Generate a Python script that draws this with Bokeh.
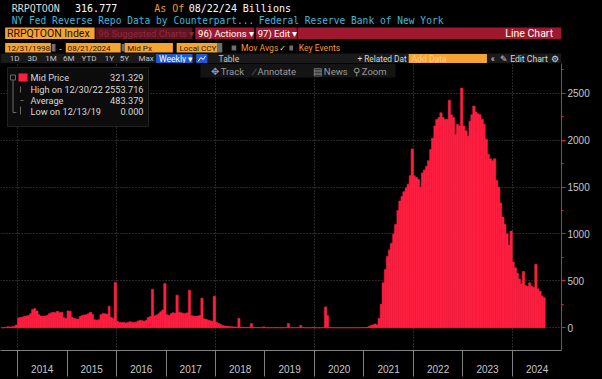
import pandas as pd
from bokeh.plotting import figure
from bokeh.layouts import column
from bokeh.models import (Range1d, FixedTicker, DatetimeTickFormatter, Label,
                          ColumnDataSource, GlobalInlineStyleSheet)
from bokeh.core.properties import value
from bokeh.embed import file_html
from bokeh.resources import INLINE

# ---------------- data (semi-monthly, billions USD) ----------------
start_date = "2013-09-01"
v2013 = [0, 2, 6, 10, 8, 12, 15, 30]
v2014 = [105, 110, 115, 120, 125, 130, 150, 195, 205, 180, 140, 125,
         120, 125, 130, 150, 160, 165, 160, 175, 160, 165, 110, 100]
v2015 = [180, 175, 110, 100, 95, 90, 120, 130, 135, 140, 150, 165,
         145, 85, 80, 85, 140, 150, 150, 145, 230, 110, 100, 482]
v2016 = [70, 60, 55, 60, 50, 55, 65, 60, 55, 60, 70, 80,
         75, 70, 80, 110, 120, 411, 125, 135, 150, 170, 190, 471]
v2017 = [140, 130, 150, 160, 155, 348, 165, 160, 155, 150, 160, 401,
         130, 125, 120, 125, 130, 316, 95, 90, 80, 75, 70, 337]
v2018 = [60, 45, 35, 25, 20, 18, 15, 12, 10, 8, 8, 100,
         5, 5, 4, 5, 5, 45, 4, 3, 3, 2, 2, 10]
v2019 = [2, 1, 1, 2, 1, 3, 1, 1, 1, 2, 2, 45,
         1, 1, 1, 2, 3, 25, 2, 1, 1, 1, 0, 5]
v2020 = [1, 0, 1, 1, 2, 222, 130, 2, 1, 1, 0, 1,
         1, 1, 1, 1, 0, 1, 1, 1, 1, 1, 1, 3]
v2021 = [2, 5, 15, 25, 30, 40, 30, 100, 250, 480, 620, 760,
         830, 900, 1000, 1100, 1250, 1350, 1400, 1450, 1490, 1530, 1620, 1904]
v2022 = [1620, 1600, 1580, 1500, 1650, 1680, 1720, 1780, 1900, 2020, 2150, 2220,
         2240, 2290, 2240, 2220, 2220, 2425, 2270, 2240, 2060, 2167, 2150, 2554]
v2023 = [2150, 2100, 2040, 2200, 2270, 2362, 2300, 2280, 2270, 2220, 2170, 2010,
         1850, 1800, 1780, 1800, 1570, 1500, 1330, 1180, 1100, 1000, 880, 1030]
v2024 = [700, 640, 580, 520, 470, 600, 450, 440, 480, 440, 430, 677,
         415, 390, 340, 321.329]

years = list(range(2014, 2025))
grid_years = [2014, 2016, 2018, 2020, 2022, 2024]
y_ticks = [0, 500, 1000, 1500, 2000, 2500]
y_minor = [250, 750, 1250, 1750, 2250, 2750]

legend_names = ["Mid Price", "High on 12/30/22", "Average", "Low on 12/13/19"]
legend_values = ["321.329", "2553.716", "483.379", "0.000"]
last_value = 321.329

# ---------------- build ----------------
RED = "#ff1f40"
values = (v2013 + v2014 + v2015 + v2016 + v2017 + v2018 + v2019 + v2020 +
          v2021 + v2022 + v2023 + v2024)
dates = pd.date_range(start_date, periods=len(values), freq="SMS")
rights = list(dates[1:]) + [dates[-1] + pd.Timedelta(days=16)]
src = ColumnDataSource(dict(left=list(dates), right=rights, top=values))


def ms(ts):
    return pd.Timestamp(ts).timestamp() * 1000.0


W = 602
UI = "Roboto"
MONO = "DejaVu Sans Mono"

p = figure(width=W, height=316, x_axis_type="datetime", y_axis_location="right",
           x_range=Range1d(ms("2013-08-28"), ms("2024-12-29")),
           y_range=Range1d(-242, 2816),
           output_backend="svg", toolbar_location=None,
           min_border_left=0, min_border_right=41, min_border_top=0, min_border_bottom=29,
           background_fill_color="#000000", border_fill_color="#000000",
           outline_line_color=None)

p.quad(left="left", right="right", top="top", bottom=0, source=src,
       fill_color=RED, line_color=RED, line_width=0.6)

# x axis: year labels centered between year separators
xa = p.xaxis[0]
xa.ticker = FixedTicker(ticks=[ms(f"{y}-07-02") for y in years],
                        minor_ticks=[ms(f"{y}-01-01") for y in years])
fmt = "%Y"
xa.formatter = DatetimeTickFormatter(microseconds=fmt, milliseconds=fmt, seconds=fmt,
                                     minsec=fmt, minutes=fmt, hourmin=fmt, hours=fmt,
                                     days=fmt, months=fmt, years=fmt)
xa.axis_line_color = "#808080"
xa.major_tick_line_color = None
xa.major_tick_out = 0
xa.major_tick_in = 0
xa.minor_tick_line_color = "#808080"
xa.minor_tick_out = 26
xa.minor_tick_in = 0
xa.major_label_text_color = "#c8c8c8"
xa.major_label_text_font = "Liberation Sans"
xa.major_label_text_font_size = "10px"
xa.major_label_standoff = -12

ya = p.yaxis[0]
ya.ticker = FixedTicker(ticks=y_ticks, minor_ticks=y_minor)
ya.axis_line_color = "#e0203c"
ya.major_tick_line_color = "#e0203c"
ya.minor_tick_line_color = "#e0203c"
ya.major_tick_out = 4
ya.major_tick_in = 0
ya.minor_tick_out = 2
ya.minor_tick_in = 0
ya.major_label_text_color = "#c8c8c8"
ya.major_label_text_font = "Liberation Sans"
ya.major_label_text_font_size = "10px"
ya.major_label_standoff = 2

p.xgrid.ticker = FixedTicker(ticks=[ms(f"{y}-01-01") for y in grid_years])
for g in (p.xgrid, p.ygrid):
    g.grid_line_color = "#4e4e4e"
    g.grid_line_dash = "1 2"

# overlay pixel ranges (frame pixels)
p.extra_x_ranges = {"px": Range1d(0, 561)}
p.extra_y_ranges = {"px": Range1d(350, 63)}
PX = dict(x_range_name="px", y_range_name="px")

# track row
p.quad(left=[200], right=[395], top=[63], bottom=[77], fill_color="#141414",
       line_color=None, **PX)
p.text(x=[210, 253, 312, 352], y=[70.5] * 4,
       text=["\u2725 Track", "\u2215 Annotate", "\u25a4 News", "\u26b2 Zoom"],
       text_color="#9a9a9a", text_font=value(UI), text_font_size="9.5px",
       text_baseline="middle", **PX)

# legend box
p.quad(left=[7], right=[148], top=[67], bottom=[126], fill_color="#0c0c0c",
       line_color="#222222", **PX)
p.quad(left=[18], right=[27], top=[73], bottom=[81], fill_color=RED, line_color=None, **PX)
p.quad(left=[10], right=[15], top=[74.5], bottom=[79.5], fill_color=None,
       line_color="#6a6a6a", line_width=1, **PX)
p.segment(x0=[12.5, 12.5, 20, 20, 20], y0=[80, 112, 86, 100, 106],
          x1=[12.5, 16, 20, 23, 20], y1=[112, 112, 92, 100, 114],
          line_color="#6a6a6a", line_width=1, **PX)
p.text(x=[30] * 4, y=[77, 89, 100, 111], text=legend_names, text_color="#d8d8d8",
       text_font=value(UI), text_font_size="9.2px", text_baseline="middle", **PX)
p.text(x=[143] * 4, y=[77, 89, 100, 111], text=legend_values, text_color="#d8d8d8",
       text_font=value(UI), text_font_size="9.2px", text_baseline="middle",
       text_align="right", **PX)

# last value tag on the right axis
p.add_layout(Label(x=563, y=last_value, x_range_name="px", text=f"{last_value:.3f}",
                   text_color="#ffffff", text_font=UI, text_font_size="9.5px",
                   text_baseline="middle", background_fill_color=RED, padding=1))

# ---------------- header ----------------
h = figure(width=W, height=63, x_range=Range1d(0, W), y_range=Range1d(63, 0),
           output_backend="svg", toolbar_location=None, min_border=0,
           x_axis_location=None, y_axis_location=None,
           background_fill_color="#000000", border_fill_color="#000000",
           outline_line_color=None)
h.xgrid.visible = False
h.ygrid.visible = False


def boxes(fig, l, r, t, b, c):
    fig.quad(left=l, right=r, top=t, bottom=b, fill_color=c, line_color=None)


def texts(fig, xs, ys, tx, color, size, font, align="left"):
    fig.text(x=xs, y=ys, text=tx, text_color=color, text_font_size=size,
             text_font=value(font), text_align=align, text_baseline="middle")


ORANGE = "#f5a434"
texts(h, [12], [7.5], ["RRPQTOON"], "#dcdcdc", "10px", MONO)
texts(h, [80], [7.5], ["316.777"], "#ffffff", "10px", MONO)
texts(h, [165], [7.5], ["As Of"], "#f39a2a", "10px", MONO)
texts(h, [202], [7.5], ["08/22/24"], "#ffffff", "10px", MONO)
texts(h, [260], [7.5], ["Billions"], "#ffffff", "10px", MONO)
texts(h, [12, 277], [19.5, 19.5],
      ["NY Fed Reverse Repo Data by Counterpart...", "Federal Reserve Bank of New York"],
      "#3fb8dc", "9.6px", MONO)

# row 3
boxes(h, [5], [101], [27], [38.5], ORANGE)
boxes(h, [102], [206], [27], [38.5], "#5e1222")
boxes(h, [209, 274, 319], [272, 318, W], [27] * 3, [38.5] * 3, "#a0182e")
texts(h, [7], [33], ["RRPQTOON Index"], "#1a1000", "10.5px", UI)
texts(h, [105], [33], ["96 Suggested Charts \u25be"], "#8e2a3c", "9.5px", UI)
texts(h, [212, 276], [33, 33], ["96) Actions \u25be", "97) Edit \u25be"], "#ffffff", "9.5px", UI)
texts(h, [593], [33], ["Line Chart"], "#ffffff", "10.5px", UI, align="right")

# row 4
boxes(h, [5, 70, 133, 189], [54, 129, 185, 233], [42.5] * 4, [52] * 4, ORANGE)
boxes(h, [55, 130, 233, 248, 310], [59, 133, 238, 253, 314],
      [43.5, 43.5, 42.5, 45, 45], [51, 51, 52, 50, 50], "#6e6e6e")
texts(h, [7, 72, 136, 192], [47.5] * 4,
      ["12/31/1998", "08/21/2024", "Mid Px", "Local CCY"], "#2a1800", "8.1px", UI)
texts(h, [63], [47.5], ["-"], "#dddddd", "9px", UI)
texts(h, [258, 320], [47.5, 47.5], ["Mov Avgs", "Key Events"], "#f39a2a", "8.6px", UI)
texts(h, [299], [47.5], ["\u2713"], "#dddddd", "8px", "DejaVu Sans")

# row 5
boxes(h, [0], [W], [53], [63], "#1a1a1a")
texts(h, [10, 29, 48, 67, 87, 112, 128, 148], [58] * 8,
      ["1D", "3D", "1M", "6M", "YTD", "1Y", "5Y", "Max"], "#c4c4c4", "8px", UI)
boxes(h, [167, 210], [206, 222], [53.5, 53.5], [62.5, 62.5], "#1f5ad0")
texts(h, [170], [58], ["Weekly \u25be"], "#ffffff", "8.6px", UI)
h.line(x=[212, 215, 217.5, 220], y=[61, 57, 59, 55.5], line_color="#ffffff", line_width=1)
texts(h, [234], [58], ["Table"], "#c4c4c4", "8.5px", UI)
texts(h, [383], [58], ["+ Related Dat"], "#d8d8d8", "8.3px", UI)
boxes(h, [438], [522], [53.5], [62.5], ORANGE)
texts(h, [441], [58], ["Add Data"], "#fbcf98", "8.6px", UI)
texts(h, [526, 536, 591], [58] * 3, ["\u00ab", "\u270e Edit Chart", "\u2699"],
      "#d8d8d8", "8.6px", UI)

layout = column(h, p, spacing=0)
layout.stylesheets = [GlobalInlineStyleSheet(
    css="html, body { margin: 0 !important; padding: 0; background: #000000; }")]

open("out.html", "w").write(file_html(layout, INLINE))
